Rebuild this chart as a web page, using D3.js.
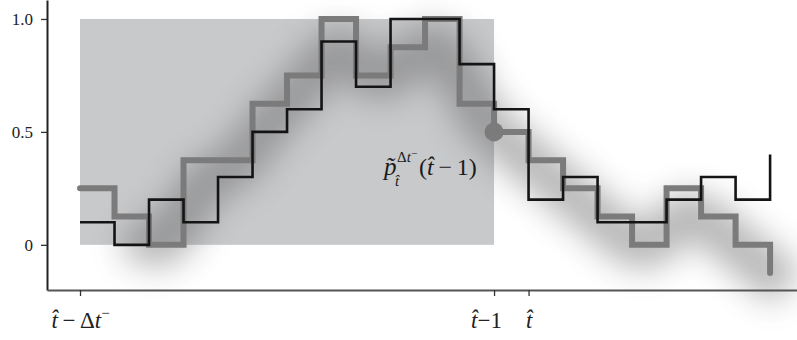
<!DOCTYPE html>
<html>
<head>
<meta charset="utf-8">
<script src="https://cdn.jsdelivr.net/npm/d3@7"></script>
<style>
  body { margin: 0; background: #fff; }
  svg { display: block; font-family: "Liberation Serif", "Times New Roman", serif; }
</style>
</head>
<body>
<div class="chart"></div>
<script>
// step index (one bin per unit)
const steps = d3.range(0, 21);
const blackValues = [0.1, 0, 0.2, 0.1, 0.3, 0.5, 0.6, 0.9, 0.7, 1.0, 1.0, 0.8, 0.6, 0.2, 0.3, 0.1, 0.1, 0.2, 0.3, 0.2, 0.4];
const grayValues = [0.25, 0.125, 0, 0.375, 0.375, 0.625, 0.75, 1.0, 0.75, 0.875, 1.0, 0.625, 0.5, 0.375, 0.25, 0.125, 0, 0.25, 0.125, 0, -0.125];
const yTicks = [0, 0.5, 1.0];
const yTickLabels = ["0", "0.5", "1.0"];
const xTicks = [0, 12, 13];
const windowStart = 0, windowEnd = 12; // shaded window
const pointIndex = 12, pointValue = 0.5;

const W = 797, H = 340;
const svg = d3.select(".chart").append("svg")
    .attr("width", W)
    .attr("height", H);

const x = d3.scaleLinear().domain([-0.957, 20.78]).range([47, 797]);
const y = d3.scaleLinear().domain([-0.2, 1.084]).range([290, 0]);

// blur for the soft shadow band
const defs = svg.append("defs");
defs.append("filter")
    .attr("id", "soft")
    .attr("x", "-20%").attr("y", "-60%").attr("width", "140%").attr("height", "220%")
  .append("feGaussianBlur")
    .attr("stdDeviation", 16);

// shaded window
svg.append("rect")
    .attr("x", x(windowStart))
    .attr("y", y(1))
    .attr("width", x(windowEnd) - x(windowStart))
    .attr("height", y(0) - y(1))
    .attr("fill", "#c8c9cb");

// shadow band following the gray series
const shadowLine = d3.line()
    .x(i => x(i + 0.5))
    .y(i => y(grayValues[i]) + 14)
    .curve(d3.curveBasis);
svg.append("path")
    .attr("d", shadowLine(d3.range(1, 21)))
    .attr("fill", "none")
    .attr("stroke", "#555")
    .attr("stroke-width", 46)
    .attr("stroke-linecap", "butt")
    .attr("opacity", 0.42)
    .attr("filter", "url(#soft)");

// axes
const yAxis = d3.axisLeft(y)
    .tickValues(yTicks)
    .tickFormat((d, i) => yTickLabels[i])
    .tickSize(6)
    .tickSizeOuter(0)
    .tickPadding(8);
const gy = svg.append("g").attr("transform", `translate(${x(-0.957)},0)`).call(yAxis);
gy.select(".domain").attr("stroke", "#222").attr("stroke-width", 2);
gy.selectAll(".tick line").attr("stroke", "#333").attr("stroke-width", 1.3);
gy.selectAll(".tick text")
    .attr("font-size", 17)
    .attr("font-family", "'Liberation Serif', serif")
    .attr("fill", "#222");

const xAxis = d3.axisBottom(x)
    .tickValues(xTicks)
    .tickFormat("")
    .tickSize(6)
    .tickSizeOuter(0);
const gx = svg.append("g").attr("transform", `translate(0,${y(-0.2)})`).call(xAxis);
gx.select(".domain").attr("stroke", "#555").attr("stroke-width", 2.2);
gx.selectAll(".tick line").attr("stroke", "#333").attr("stroke-width", 1.3);

// x tick labels with hats
const tickLabel = (sel, parts) => {
  sel.each(function () {
    const t = d3.select(this);
    parts.forEach(p => {
      t.append("tspan")
        .attr("font-style", p.italic ? "italic" : "normal")
        .attr("font-size", p.size || 23)
        .attr("dy", p.dy || 0)
        .text(p.text);
    });
  });
};
const xLabels = [
  [{ text: "t\u0302", italic: true }, { text: "\u2009\u2212\u2009" }, { text: "\u0394" }, { text: "t", italic: true }, { text: "\u2212", size: 15, dy: -10 }],
  [{ text: "t\u0302", italic: true }, { text: "\u2212" }, { text: "1" }],
  [{ text: "t\u0302", italic: true }]
];
const xLabelShift = [0, -8, 0];
gx.selectAll(".tick").each(function (d, i) {
  const t = d3.select(this).append("text")
      .attr("x", xLabelShift[i])
      .attr("y", 38)
      .attr("fill", "#222")
      .attr("text-anchor", "middle")
      .attr("font-family", "'Liberation Serif', serif");
  tickLabel(t, xLabels[i]);
});

// gray series (thick)
const step = d3.line()
    .x(i => x(i))
    .curve(d3.curveStepAfter);
svg.append("path")
    .attr("d", step.y(i => y(grayValues[i]))(steps))
    .attr("fill", "none")
    .attr("stroke", "#7b7b7b")
    .attr("stroke-width", 6)
    .attr("stroke-linecap", "round");

// black series
svg.append("path")
    .attr("d", step.y(i => y(blackValues[i]))(steps))
    .attr("fill", "none")
    .attr("stroke", "#141414")
    .attr("stroke-width", 2.6);

// marked point
svg.append("circle")
    .attr("cx", x(pointIndex))
    .attr("cy", y(pointValue))
    .attr("r", 9.5)
    .attr("fill", "#7b7b7b");

// annotation  p~ sub t^ sup Δt−  (t^−1)
const ax = x(pointIndex) - 110, ay = y(pointValue) + 43;
const ann = svg.append("g").attr("fill", "#1a1a1a").attr("font-family", "'Liberation Serif', serif");
ann.append("text").attr("x", ax).attr("y", ay)
    .attr("font-size", 25).attr("font-style", "italic").text("p\u0303");
const sup = ann.append("text").attr("x", ax + 13).attr("y", ay - 13).attr("font-size", 15);
sup.append("tspan").text("\u0394");
sup.append("tspan").attr("font-style", "italic").text("t");
sup.append("tspan").attr("font-size", 11).attr("dy", -5).text("\u2212");
ann.append("text").attr("x", ax + 11).attr("y", ay + 11)
    .attr("font-size", 15).attr("font-style", "italic").text("t\u0302");
const arg = ann.append("text").attr("x", ax + 35).attr("y", ay).attr("font-size", 24);
arg.append("tspan").text("(");
arg.append("tspan").attr("font-style", "italic").text("t\u0302");
arg.append("tspan").text("\u2009\u2212\u20091)");
</script>
</body>
</html>
